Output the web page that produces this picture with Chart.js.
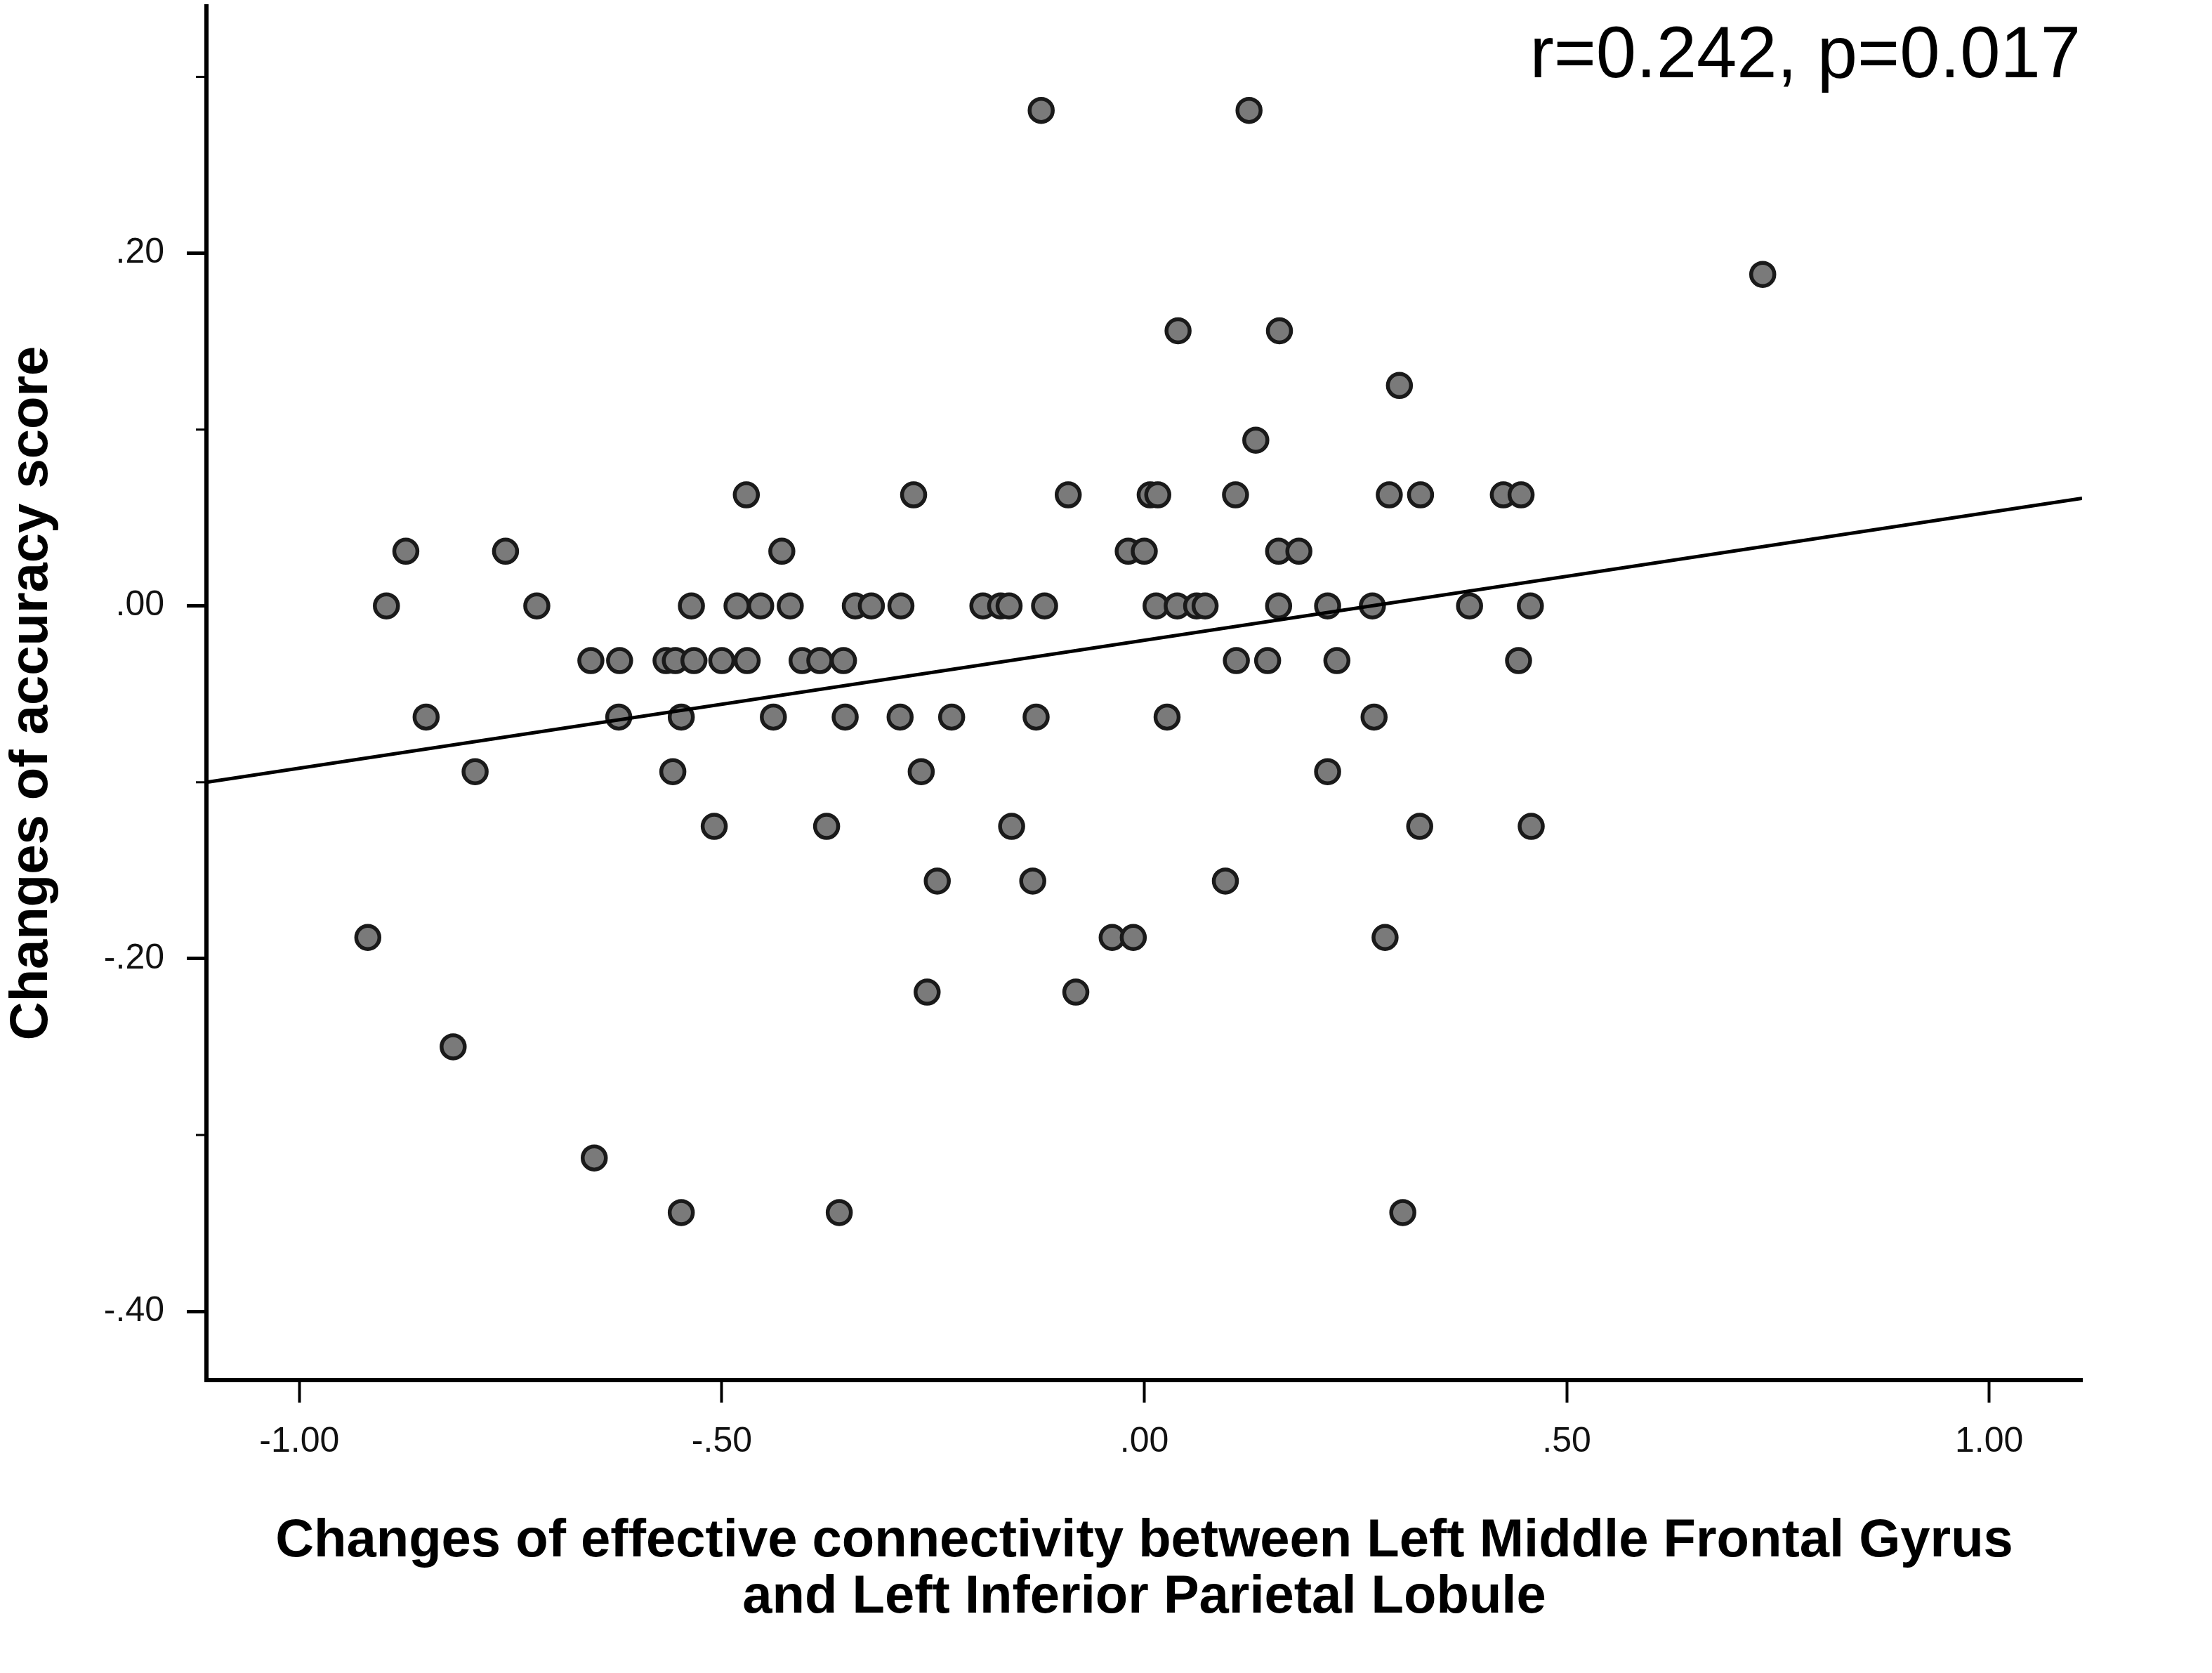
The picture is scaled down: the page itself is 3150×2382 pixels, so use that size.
<!DOCTYPE html>
<html>
<head>
<meta charset="utf-8">
<script src="https://cdn.jsdelivr.net/npm/chart.js@4.4.1/dist/chart.umd.min.js"></script>
<style>
  html, body { margin: 0; padding: 0; background: #fff; }
  #wrap { width: 3150px; height: 2382px; }
</style>
</head>
<body>
<div id="wrap"><canvas id="scatter"></canvas></div>
<script>
// change in effective connectivity (x) and change in accuracy score (y), one entry per subject
var connectivityChange = [
  -0.122, 0.124,
  0.732,
  0.040, 0.160,
  0.302,
  0.132,
  -0.471, -0.273, -0.090, 0.007, 0.016, 0.108, 0.290, 0.327, 0.425, 0.446,
  -0.874, -0.756, -0.429, -0.019, 0.000, 0.159, 0.183,
  -0.897, -0.719, -0.536, -0.482, -0.454, -0.419, -0.342, -0.323, -0.288, -0.191, -0.170,
  -0.160, -0.118, 0.014, 0.039, 0.062, 0.072, 0.159, 0.217, 0.270, 0.385, 0.457,
  -0.655, -0.621, -0.566, -0.555, -0.533, -0.500, -0.470, -0.405, -0.384, -0.356,
  0.109, 0.146, 0.228, 0.443,
  -0.850, -0.622, -0.548, -0.439, -0.354, -0.289, -0.228, -0.128, 0.027, 0.272,
  -0.792, -0.558, -0.264, 0.217,
  -0.509, -0.376, -0.157, 0.326, 0.458,
  -0.245, -0.132, 0.096,
  -0.919, -0.038, -0.013, 0.285,
  -0.257, -0.081,
  -0.818,
  -0.651,
  -0.548, -0.361, 0.306
];
var accuracyChange = [
  0.281, 0.281,
  0.188,
  0.156, 0.156,
  0.125,
  0.094,
  0.063, 0.063, 0.063, 0.063, 0.063, 0.063, 0.063, 0.063, 0.063, 0.063,
  0.031, 0.031, 0.031, 0.031, 0.031, 0.031, 0.031,
  0, 0, 0, 0, 0, 0, 0, 0, 0, 0, 0,
  0, 0, 0, 0, 0, 0, 0, 0, 0, 0, 0,
  -0.031, -0.031, -0.031, -0.031, -0.031, -0.031, -0.031, -0.031, -0.031, -0.031,
  -0.031, -0.031, -0.031, -0.031,
  -0.063, -0.063, -0.063, -0.063, -0.063, -0.063, -0.063, -0.063, -0.063, -0.063,
  -0.094, -0.094, -0.094, -0.094,
  -0.125, -0.125, -0.125, -0.125, -0.125,
  -0.156, -0.156, -0.156,
  -0.188, -0.188, -0.188, -0.188,
  -0.219, -0.219,
  -0.25,
  -0.313,
  -0.344, -0.344, -0.344
];

var xTicks = [-1, -0.5, 0, 0.5, 1];
var yTicks = [0.2, 0, -0.2, -0.4];
var yMinorTicks = [0.3, 0.1, -0.1, -0.3];

// fitted line, read at both ends of the x range
var fitX = [-1.11, 1.11];
var fitY = [-0.100, 0.061];

var statsLabel = "r=0.242, p=0.017";

function spssLabel(v) {
  return Number(v).toFixed(2).replace(/^(-?)0\./, "$1.");
}

var minorTickPlugin = {
  id: "minorTicks",
  afterDraw: function (chart) {
    var ctx = chart.ctx, y = chart.scales.y;
    ctx.save();
    ctx.strokeStyle = "#000";
    ctx.lineWidth = 3;
    yMinorTicks.forEach(function (v) {
      var py = y.getPixelForValue(v);
      ctx.beginPath();
      ctx.moveTo(y.right - 15, py);
      ctx.lineTo(y.right, py);
      ctx.stroke();
    });
    ctx.restore();
  }
};

var statsPlugin = {
  id: "stats",
  afterDraw: function (chart) {
    var ctx = chart.ctx;
    ctx.save();
    ctx.font = '103px "Liberation Sans", Arial, sans-serif';
    ctx.fillStyle = "#000";
    ctx.textAlign = "right";
    ctx.textBaseline = "alphabetic";
    ctx.fillText(statsLabel, chart.chartArea.right - 2, 110);
    ctx.restore();
  }
};

var tickFont = { family: '"Liberation Sans", Arial, sans-serif', size: 50 };
var titleFont = { family: '"Liberation Sans", Arial, sans-serif', size: 76, weight: "bold", lineHeight: 1.053 };

var ctx_scatter = document.getElementById("scatter").getContext("2d");
var scatter = new Chart(ctx_scatter, {
  type: "scatter",
  data: {
    datasets: [
      {
        type: "line",
        label: "fit",
        data: fitX.map(function (x, i) { return { x: x, y: fitY[i] }; }),
        borderColor: "#000",
        borderWidth: 5,
        pointRadius: 0,
        fill: false,
        order: 0
      },
      {
        label: "subjects",
        data: connectivityChange.map(function (x, i) { return { x: x, y: accuracyChange[i] }; }),
        backgroundColor: "#7a7a7a",
        borderColor: "#1a1a1a",
        borderWidth: 5.5,
        pointRadius: 16.5,
        order: 1
      }
    ]
  },
  options: {
    responsive: true,
    maintainAspectRatio: false,
    devicePixelRatio: 1,
    animation: false,
    events: [],
    layout: { autoPadding: false, padding: { top: 9, right: 185, left: 0, bottom: 0 } },
    plugins: {
      legend: { display: false },
      tooltip: { enabled: false }
    },
    scales: {
      x: {
        type: "linear",
        min: -1.11,
        max: 1.11,
        afterBuildTicks: function (scale) {
          scale.ticks = xTicks.map(function (v) { return { value: v }; });
        },
        afterFit: function (scale) {
          scale.height = 417;
          scale.paddingLeft = 0;
          scale.paddingRight = 0;
        },
        grid: { drawOnChartArea: false, drawTicks: true, tickLength: 32, tickWidth: 4, tickColor: "#000" },
        border: { display: true, width: 6, color: "#000" },
        ticks: {
          autoSkip: false,
          maxRotation: 0,
          padding: 26,
          color: "#111",
          font: tickFont,
          callback: function (v) { return spssLabel(v); }
        },
        title: {
          display: true,
          text: ["Changes of effective connectivity between Left Middle Frontal Gyrus",
                 "and Left Inferior Parietal Lobule"],
          color: "#000",
          font: titleFont,
          padding: { top: 0, bottom: 67 }
        }
      },
      y: {
        type: "linear",
        min: -0.439,
        max: 0.34,
        afterBuildTicks: function (scale) {
          scale.ticks = yTicks.map(function (v) { return { value: v }; });
        },
        afterFit: function (scale) {
          scale.width = 294;
          scale.paddingTop = 0;
          scale.paddingBottom = 0;
        },
        grid: { drawOnChartArea: false, drawTicks: true, tickLength: 28, tickWidth: 5, tickColor: "#000" },
        border: { display: true, width: 6, color: "#000" },
        ticks: {
          autoSkip: false,
          padding: 32,
          color: "#111",
          font: tickFont,
          callback: function (v) { return spssLabel(v); }
        },
        title: {
          display: true,
          text: "Changes of accuracy score",
          color: "#000",
          font: titleFont,
          padding: { top: 6, bottom: 0 }
        }
      }
    }
  },
  plugins: [minorTickPlugin, statsPlugin]
});
</script>
</body>
</html>
